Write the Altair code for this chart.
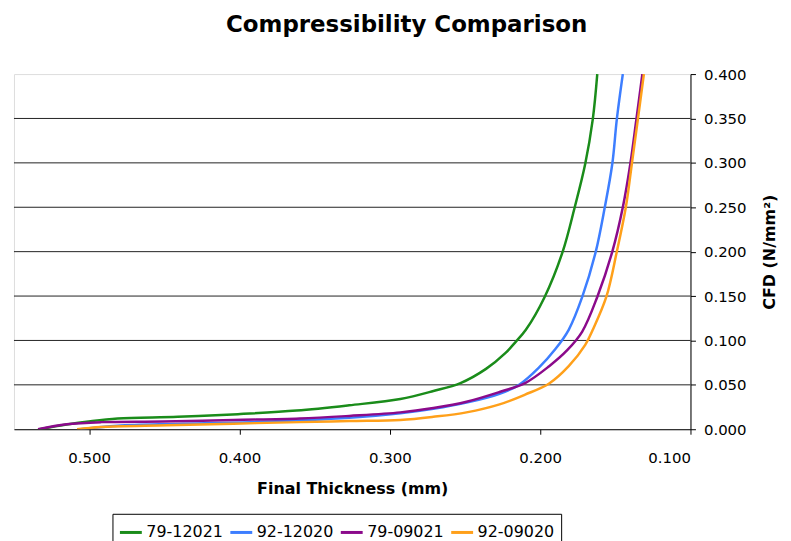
import altair as alt
import pandas as pd

series_names = ["79-12021", "92-12020", "79-09021", "92-09020"]
series_colors = ["#1a8c1a", "#3d7eff", "#8b0a8b", "#ffa01a"]

t_79_12021 = [0.533, 0.516, 0.499, 0.481, 0.441, 0.401, 0.362, 0.327, 0.293, 0.271, 0.253,
              0.236, 0.223, 0.216, 0.2095, 0.197, 0.185, 0.177, 0.170, 0.165, 0.162]
c_79_12021 = [0.000, 0.005, 0.009, 0.012, 0.014, 0.017, 0.021, 0.027, 0.034, 0.043, 0.052,
              0.068, 0.086, 0.099, 0.112, 0.149, 0.200, 0.250, 0.299, 0.349, 0.400]

t_92_12020 = [0.506, 0.481, 0.441, 0.392, 0.327, 0.293, 0.271, 0.249, 0.227, 0.214, 0.201,
              0.190, 0.181, 0.172, 0.163, 0.157, 0.152, 0.149, 0.145]
c_92_12020 = [0.000, 0.004, 0.006, 0.008, 0.013, 0.018, 0.023, 0.030, 0.040, 0.050, 0.069,
              0.090, 0.112, 0.149, 0.200, 0.250, 0.299, 0.349, 0.400]

t_79_09021 = [0.534, 0.515, 0.492, 0.451, 0.404, 0.360, 0.327, 0.293, 0.271, 0.249, 0.227,
              0.210, 0.194, 0.182, 0.172, 0.162, 0.152, 0.145, 0.140, 0.136, 0.132]
c_79_09021 = [0.000, 0.0056, 0.008, 0.0087, 0.0104, 0.012, 0.015, 0.019, 0.024, 0.031, 0.042,
              0.052, 0.071, 0.089, 0.110, 0.149, 0.200, 0.250, 0.299, 0.349, 0.400]

t_92_09020 = [0.508, 0.492, 0.448, 0.404, 0.360, 0.327, 0.293, 0.271, 0.249, 0.227, 0.210,
              0.194, 0.181, 0.170, 0.165, 0.156, 0.149, 0.143, 0.139, 0.135, 0.131]
c_92_09020 = [0.000, 0.0026, 0.0045, 0.0063, 0.008, 0.0093, 0.0105, 0.014, 0.019, 0.028, 0.039,
              0.0515, 0.071, 0.095, 0.112, 0.149, 0.200, 0.250, 0.299, 0.349, 0.400]

x_ticks = [0.5, 0.4, 0.3, 0.2, 0.1]
y_ticks = [0.0, 0.05, 0.1, 0.15, 0.2, 0.25, 0.3, 0.35, 0.4]
grid_y = [0.05, 0.1, 0.15, 0.2, 0.25, 0.3, 0.35]

rows = []
for name, ts, cs in [
    ("79-12021", t_79_12021, c_79_12021),
    ("92-12020", t_92_12020, c_92_12020),
    ("79-09021", t_79_09021, c_79_09021),
    ("92-09020", t_92_09020, c_92_09020),
]:
    for i, (t, c) in enumerate(zip(ts, cs)):
        rows.append({"series": name, "t": t, "cfd": c, "i": i})
df = pd.DataFrame(rows)
grid_df = pd.DataFrame({"cfd": grid_y})

FONT = "DejaVu Sans"

xscale = alt.Scale(domain=[0.1, 0.55], reverse=True, nice=False, zero=False)
yscale = alt.Scale(domain=[0, 0.4], nice=False, zero=True)

yaxis = alt.Axis(orient="right", values=y_ticks, format=".3f", title="CFD (N/mm²)",
                 titleAngle=270, grid=False, tickSize=5, labelPadding=8,
                 titlePadding=32, domainColor="#000000", tickColor="#000000",
                 labelColor="#000000", titleColor="#000000",
                 labelFont=FONT, labelFontSize=15,
                 titleFont=FONT, titleFontSize=16, titleFontWeight="bold")

grid = alt.Chart(grid_df).mark_rule(color="#222222", strokeWidth=1).encode(
    y=alt.Y("cfd:Q", scale=yscale, axis=yaxis)
)

lines = alt.Chart(df).mark_line(strokeWidth=2.5, interpolate="catmull-rom", clip=True).encode(
    x=alt.X("t:Q", scale=xscale,
            axis=alt.Axis(values=x_ticks, format=".3f", title="Final Thickness (mm)",
                          grid=False, tickSize=5, labelPadding=16, titlePadding=16,
                          domainColor="#000000", tickColor="#000000",
                          labelColor="#000000", titleColor="#000000",
                          labelFont=FONT, labelFontSize=15,
                          titleFont=FONT, titleFontSize=16, titleFontWeight="bold")),
    y=alt.Y("cfd:Q", scale=yscale, axis=yaxis),
    color=alt.Color("series:N",
                    scale=alt.Scale(domain=series_names, range=series_colors),
                    sort=series_names,
                    legend=alt.Legend(title=None, orient="none", legendX=99, legendY=442,
                                      direction="horizontal", columns=4,
                                      symbolType="stroke", symbolSize=484,
                                      symbolStrokeWidth=3, labelFont=FONT,
                                      labelFontSize=16, labelColor="#000000",
                                      strokeColor="#000000", padding=6,
                                      columnPadding=0, labelOffset=3)),
    order=alt.Order("i:Q"),
    detail="series:N",
)

chart = alt.layer(grid, lines).properties(
    width=680, height=357,
    title=alt.TitleParams("Compressibility Comparison", font=FONT, fontSize=23,
                          fontWeight="bold", color="#000000", anchor="middle",
                          frame="bounds", offset=30, dx=11),
).configure_view(stroke="#808080").configure(background="white")

chart.save("out.html", embed_options={"renderer": "svg", "actions": False})
